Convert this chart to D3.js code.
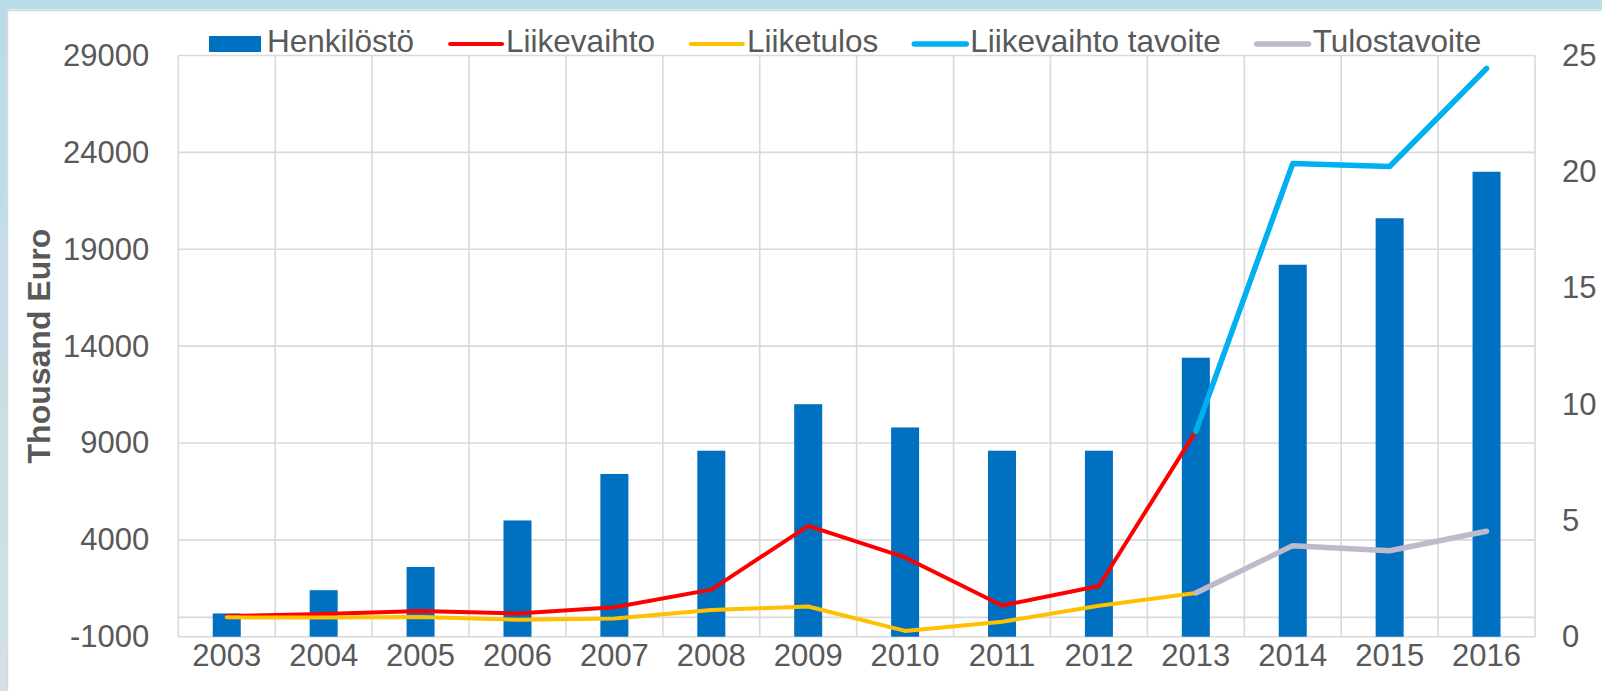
<html>
<head>
    <meta charset="utf-8">
    <script src="https://cdn.jsdelivr.net/npm/d3@7"></script>
    <style>
        body { margin: 0; background: #fff; }
        text { font-family: 'Liberation Sans', Arial, sans-serif; fill: #595959; }
    </style>
</head>
<body>
    <script>
        // data
        var years = ['2003', '2004', '2005', '2006', '2007', '2008', '2009', '2010', '2011', '2012', '2013', '2014', '2015', '2016'];
        var henkilosto = [1, 2, 3, 5, 7, 8, 10, 9, 8, 8, 12, 16, 18, 20];
        var liikevaihto = [70, 170, 330, 200, 520, 1430, 4720, 3090, 610, 1620, 9600];
        var liiketulos = [0, -10, 20, -130, -60, 380, 560, -700, -230, 600, 1260];
        var tavoiteYears = ['2013', '2014', '2015', '2016'];
        var liikevaihtoTavoite = [9600, 23420, 23270, 28330];
        var tulostavoite = [1260, 3700, 3440, 4440];
        var leftTicks = [-1000, 4000, 9000, 14000, 19000, 24000, 29000];
        var rightTicks = [0, 5, 10, 15, 20, 25];

        var width = 1602,
            height = 691;
        var plotL = 178.3, plotR = 1535, plotT = 55.5, plotB = 636.7;

        var svg = d3.select('body')
            .append('svg')
            .attr('width', width)
            .attr('height', height);

        // frame
        var grad = svg.append('defs').append('linearGradient')
            .attr('id', 'sideGrad').attr('x1', 0).attr('y1', 0).attr('x2', 0).attr('y2', 1);
        grad.append('stop').attr('offset', '0%').attr('stop-color', '#b9dbe6');
        grad.append('stop').attr('offset', '100%').attr('stop-color', '#d3e1e8');
        svg.append('rect').attr('width', width).attr('height', height).attr('fill', '#fff');
        svg.append('rect').attr('x', 0).attr('y', 0).attr('width', 7).attr('height', height).attr('fill', 'url(#sideGrad)');
        svg.append('rect').attr('x', 0).attr('y', 0).attr('width', width).attr('height', 9.5).attr('fill', '#b8dce8');
        svg.append('path')
            .attr('d', 'M7.5,' + height + 'V10.5H' + width)
            .attr('fill', 'none').attr('stroke', '#d9d9d9').attr('stroke-width', 1.5);

        var x = d3.scaleBand().domain(years).range([plotL, plotR]).padding(0);
        var yL = d3.scaleLinear().domain([-1000, 29000]).range([plotB, plotT]);
        var yR = d3.scaleLinear().domain([0, 25]).range([plotB, plotT]);

        // grid
        var grid = svg.append('g').attr('stroke', '#d9d9d9').attr('stroke-width', 1.6);
        grid.selectAll('.h')
            .data(leftTicks.concat([0]))
            .enter().append('line')
            .attr('x1', plotL).attr('x2', plotR)
            .attr('y1', d => yL(d)).attr('y2', d => yL(d));
        grid.selectAll('.v')
            .data(years.concat(['end']))
            .enter().append('line')
            .attr('x1', (d, i) => plotL + i * x.bandwidth())
            .attr('x2', (d, i) => plotL + i * x.bandwidth())
            .attr('y1', plotT).attr('y2', plotB);

        // axes
        var axL = svg.append('g')
            .attr('transform', 'translate(' + plotL + ',0)')
            .call(d3.axisLeft(yL).tickValues(leftTicks).tickFormat(d => String(d)).tickSize(0).tickPadding(29));
        var axR = svg.append('g')
            .attr('transform', 'translate(' + plotR + ',0)')
            .call(d3.axisRight(yR).tickValues(rightTicks).tickSize(0).tickPadding(27));
        var axB = svg.append('g')
            .attr('transform', 'translate(0,' + plotB + ')')
            .call(d3.axisBottom(x).tickSize(0).tickPadding(7));
        [axL, axR, axB].forEach(function (a) {
            a.select('.domain').remove();
            a.selectAll('text')
                .attr('font-size', 31)
                .style('font-family', "'Liberation Sans', Arial, sans-serif")
                .attr('fill', '#595959');
        });

        svg.append('text')
            .attr('transform', 'translate(49.5,' + ((plotT + plotB) / 2) + ') rotate(-90)')
            .attr('text-anchor', 'middle')
            .attr('font-size', 32)
            .attr('font-weight', 'bold')
            .text('Thousand Euro');

        // bars
        var bw = 28;
        svg.append('g').selectAll('rect')
            .data(henkilosto)
            .enter().append('rect')
            .attr('x', (d, i) => x(years[i]) + x.bandwidth() / 2 - bw / 2)
            .attr('width', bw)
            .attr('y', d => yR(d))
            .attr('height', d => yR(0) - yR(d))
            .attr('fill', '#0070c0');

        // lines
        var series = [
            { name: 'Liikevaihto', cats: years, vals: liikevaihto, color: '#ff0000', w: 4 },
            { name: 'Liiketulos', cats: years, vals: liiketulos, color: '#ffc000', w: 4 },
            { name: 'Liikevaihto tavoite', cats: tavoiteYears, vals: liikevaihtoTavoite, color: '#00b0f0', w: 5.5 },
            { name: 'Tulostavoite', cats: tavoiteYears, vals: tulostavoite, color: '#bdbbcb', w: 5.5 }
        ];
        var line = d3.line();
        series.forEach(function (s) {
            var pts = s.vals.map((v, i) => [x(s.cats[i]) + x.bandwidth() / 2, yL(v)]);
            svg.append('path')
                .attr('d', line(pts))
                .attr('fill', 'none')
                .attr('stroke', s.color)
                .attr('stroke-width', s.w)
                .attr('stroke-linejoin', 'round')
                .attr('stroke-linecap', 'round');
        });

        // legend
        var legend = svg.append('g');
        var lx = 209, ly = 44;
        var items = [{ name: 'Henkilöstö', color: '#0070c0', bar: true }].concat(series);
        items.forEach(function (it) {
            if (it.bar) {
                legend.append('rect').attr('x', lx).attr('y', ly - 8).attr('width', 52).attr('height', 16).attr('fill', it.color);
            } else {
                legend.append('line').attr('x1', lx + 2).attr('x2', lx + 54).attr('y1', ly).attr('y2', ly)
                    .attr('stroke', it.color).attr('stroke-width', it.w).attr('stroke-linecap', 'round');
            }
            var t = legend.append('text')
                .attr('x', lx + 58)
                .attr('y', ly + 8)
                .attr('font-size', 31.5)
                .text(it.name);
            lx += 58 + t.node().getComputedTextLength() + 34;
        });
    </script>
</body>
</html>
